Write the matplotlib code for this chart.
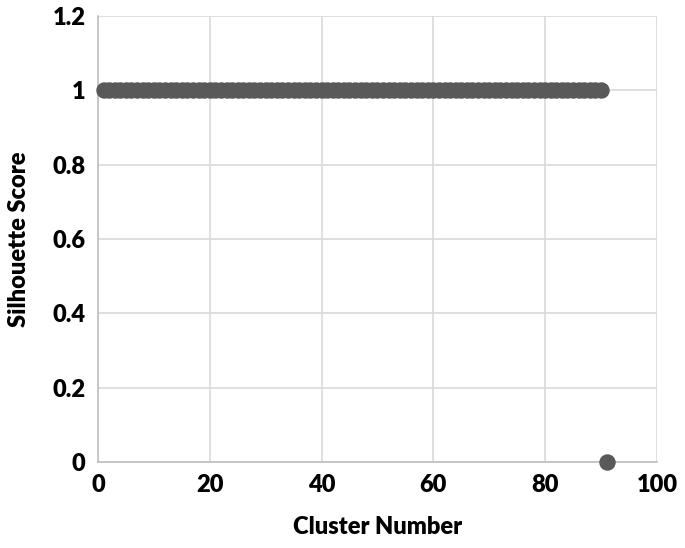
import matplotlib.pyplot as plt
import numpy as np

# silhouette score per cluster
cluster_number = list(range(1, 92))
silhouette_score = [1] * 90 + [0]

plt.rcParams['font.family'] = ['Lato', 'DejaVu Sans']

fig = plt.figure(figsize=(6.85, 5.48), dpi=100)
ax = fig.add_axes([0.143, 0.157, 0.816, 0.814])

ax.scatter(cluster_number, silhouette_score, s=140, color='#595959', zorder=3,
           linewidths=0, clip_on=False)

ax.set_xlim(0, 100)
ax.set_ylim(0, 1.2)
ax.set_xticks(np.arange(0, 101, 20))
ax.set_yticks([0, 0.2, 0.4, 0.6, 0.8, 1, 1.2])
ax.set_yticklabels(['0', '0.2', '0.4', '0.6', '0.8', '1', '1.2'])
ax.grid(True, color='#d9d9d9', linewidth=1.2, zorder=0)
ax.set_axisbelow(True)
for s in ['top', 'right']:
    ax.spines[s].set_visible(False)
for s in ['left', 'bottom']:
    ax.spines[s].set_color('#bfbfbf')
    ax.spines[s].set_linewidth(1.2)
ax.tick_params(length=0, labelsize=17, pad=9)
for lbl in ax.get_xticklabels() + ax.get_yticklabels():
    lbl.set_fontweight('heavy')

ax.set_xlabel('Cluster Number', fontsize=17, fontweight='heavy', labelpad=14)
ax.set_ylabel('Silhouette Score', fontsize=17, fontweight='heavy', labelpad=16)

plt.savefig('out.png', dpi=100)
